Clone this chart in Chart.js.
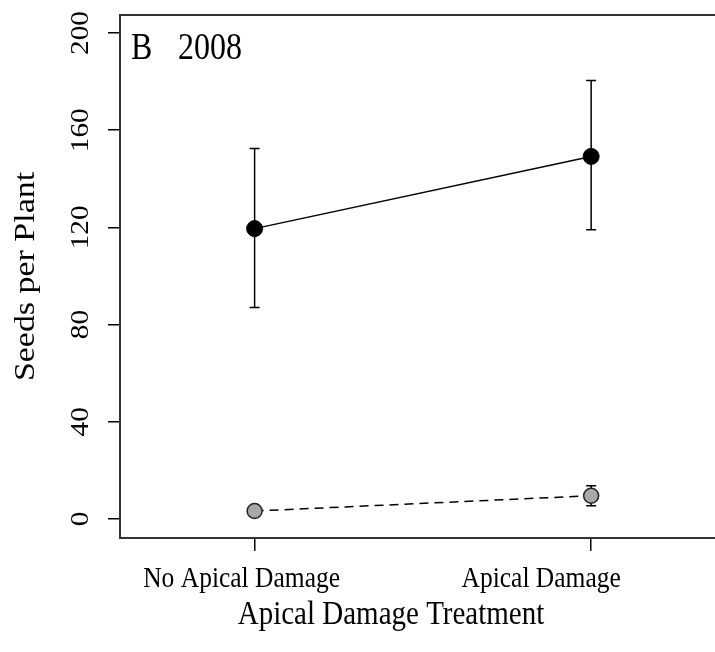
<!DOCTYPE html>
<html>
<head>
<meta charset="utf-8">
<script src="https://cdn.jsdelivr.net/npm/chart.js@4"></script>
<style>
  html, body { margin: 0; padding: 0; background: #fff; overflow: hidden; }
  #wrap { width: 715px; height: 652px; }
</style>
</head>
<body>
<div id="wrap"><canvas id="chart"></canvas></div>
<script>
// data
const categories = ['No Apical Damage', 'Apical Damage'];
const categoryX = [1, 2];
const yTicks = [0, 40, 80, 120, 160, 200];

// solid black series
const seedsBlack = [119.5, 149.2];
const seedsBlackLow = [87, 119];
const seedsBlackHigh = [152.5, 180.5];

// dashed grey series
const seedsGrey = [3.3, 9.6];
const seedsGreyLow = [2.3, 5.5];
const seedsGreyHigh = [4.3, 13.7];

const panelLabel = 'B';
const yearLabel = '2008';
const xTitle = 'Apical Damage Treatment';
const yTitle = 'Seeds per Plant';

const serif = "'Liberation Serif', 'Times New Roman', serif";
const stretch = 1.17; // the figure's text is a bit taller than wide

function points(values){
    const out = [];
    for (let i = 0; i < values.length; i++) {
        out.push({x: categoryX[i], y: values[i]});
    }
    return out;
}

function drawText(ctx, str, x, y, size, align, rotated){
    ctx.save();
    ctx.font = size + 'px ' + serif;
    ctx.textAlign = align;
    ctx.textBaseline = 'alphabetic';
    ctx.translate(x, y);
    ctx.scale(1, stretch);
    if (rotated) ctx.rotate(-Math.PI / 2);
    ctx.fillText(str, 0, 0);
    ctx.restore();
}

// error bars drawn under the points
const errorBars = {
    id: 'errorBars',
    beforeDatasetsDraw(chart){
        const ctx = chart.ctx;
        const xs = chart.scales.x;
        const ys = chart.scales.y;
        const sets = [[seedsBlackLow, seedsBlackHigh], [seedsGreyLow, seedsGreyHigh]];
        ctx.save();
        ctx.strokeStyle = '#000';
        ctx.lineWidth = 1.5;
        for (let s = 0; s < sets.length; s++) {
            for (let i = 0; i < categoryX.length; i++) {
                const px = xs.getPixelForValue(categoryX[i]);
                const lo = ys.getPixelForValue(sets[s][0][i]);
                const hi = ys.getPixelForValue(sets[s][1][i]);
                ctx.beginPath();
                ctx.moveTo(px, lo); ctx.lineTo(px, hi);
                ctx.moveTo(px - 5, lo); ctx.lineTo(px + 5, lo);
                ctx.moveTo(px - 5, hi); ctx.lineTo(px + 5, hi);
                ctx.stroke();
            }
        }
        ctx.restore();
    }
};

// texts in R style: rotated y labels, box top, panel label
const rText = {
    id: 'rText',
    afterDraw(chart){
        const ctx = chart.ctx;
        const area = chart.chartArea;
        const xs = chart.scales.x;
        const ys = chart.scales.y;

        // top line of the box
        ctx.save();
        ctx.strokeStyle = '#333';
        ctx.lineWidth = 2;
        ctx.beginPath();
        ctx.moveTo(area.left, area.top);
        ctx.lineTo(chart.width, area.top);
        ctx.stroke();
        ctx.restore();

        ctx.fillStyle = '#000';

        // y tick labels, rotated
        for (let i = 0; i < yTicks.length; i++) {
            const py = ys.getPixelForValue(yTicks[i]);
            drawText(ctx, String(yTicks[i]), 88, py, 25, 'center', true);
        }

        // x tick labels
        const labelShift = [-13, -50];
        for (let i = 0; i < categories.length; i++) {
            const px = xs.getPixelForValue(categoryX[i]);
            drawText(ctx, categories[i], px + labelShift[i], 587, 25.5, 'center', false);
        }

        // axis titles
        drawText(ctx, xTitle, 391, 624, 29, 'center', false);
        drawText(ctx, yTitle, 34, (area.top + area.bottom) / 2, 29, 'center', true);

        // panel label
        drawText(ctx, panelLabel, 131, 59, 32, 'left', false);
        drawText(ctx, yearLabel, 178, 59, 32, 'left', false);
    }
};

new Chart(document.getElementById('chart'), {
    type: 'line',
    data: {
        datasets: [{
            label: 'black',
            data: points(seedsBlack),
            borderColor: '#000',
            borderWidth: 1.5,
            pointRadius: 8,
            pointBackgroundColor: '#000',
            pointBorderColor: '#000',
            pointBorderWidth: 1
        }, {
            label: 'grey',
            data: points(seedsGrey),
            borderColor: '#000',
            borderWidth: 1.5,
            borderDash: [9, 6],
            pointRadius: 7.5,
            pointBackgroundColor: '#a8a8a8',
            pointBorderColor: '#222',
            pointBorderWidth: 1.5
        }]
    },
    options: {
        responsive: true,
        maintainAspectRatio: false,
        animation: false,
        layout: { autoPadding: false, padding: { top: 15, right: 0, left: 0, bottom: 0 } },
        plugins: {
            legend: { display: false },
            tooltip: { enabled: false }
        },
        scales: {
            x: {
                type: 'linear',
                min: 0.6,
                max: 2.368,
                afterBuildTicks: function(scale){
                    scale.ticks = categoryX.map(v => ({value: v}));
                },
                afterFit: function(scale){ scale.height = 114; },
                ticks: { display: false },
                grid: {
                    drawOnChartArea: false,
                    drawTicks: true,
                    tickLength: 13,
                    color: '#000',
                    lineWidth: 1.5
                },
                border: { display: true, color: '#333', width: 2 }
            },
            y: {
                min: -7.8,
                max: 207.4,
                afterBuildTicks: function(scale){
                    scale.ticks = yTicks.map(v => ({value: v}));
                },
                afterFit: function(scale){ scale.width = 120; },
                ticks: { display: false },
                grid: {
                    drawOnChartArea: false,
                    drawTicks: true,
                    tickLength: 12,
                    color: '#000',
                    lineWidth: 1.5
                },
                border: { display: true, color: '#333', width: 2 }
            }
        }
    },
    plugins: [errorBars, rText]
});
</script>
</body>
</html>
